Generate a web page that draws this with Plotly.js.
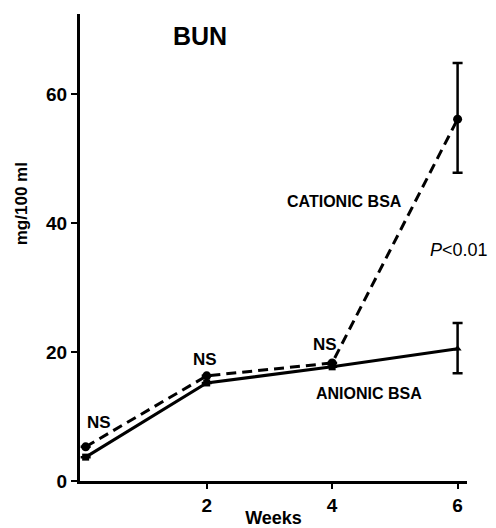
<!DOCTYPE html>
<html>
<head>
<meta charset="utf-8">
<script src="https://cdn.plot.ly/plotly-3.0.1.min.js"></script>
<style>html,body{margin:0;padding:0;background:#fff;}#chart{width:496px;height:528px;}</style>
</head>
<body>
<div id="chart"></div>
<script>
// Data
const weeks = [0.07, 2, 4, 6];
const cationic = [5.3, 16.3, 18.3, 56.1];
const cationicErrUp = [0, 0, 0, 8.7];
const cationicErrDown = [0, 0, 0, 8.3];
const anionic = [3.7, 15.2, 17.7, 20.5];
const anionicErrUp = [0, 0, 0, 4.0];
const anionicErrDown = [0, 0, 0, 3.8];
const anionicSymbols = ['square', 'square', 'square', 'triangle-up'];
const xTickVals = [2, 4, 6];
const yTickVals = [0, 20, 40, 60];

const FONT = 'Liberation Sans, Arial, Helvetica, sans-serif';

const traces = [
  {
    x: weeks, y: anionic, type: 'scatter', mode: 'lines+markers',
    line: {color: '#000', width: 3},
    marker: {color: '#000', size: 7, symbol: anionicSymbols},
    error_y: {type: 'data', symmetric: false, array: anionicErrUp, arrayminus: anionicErrDown,
              color: '#000', thickness: 2.5, width: 5},
    showlegend: false, hoverinfo: 'skip'
  },
  {
    x: weeks, y: cationic, type: 'scatter', mode: 'lines+markers',
    line: {color: '#000', width: 3, dash: '10px,6px'},
    marker: {color: '#000', size: 9, symbol: 'circle'},
    error_y: {type: 'data', symmetric: false, array: cationicErrUp, arrayminus: cationicErrDown,
              color: '#000', thickness: 2.5, width: 5},
    showlegend: false, hoverinfo: 'skip'
  }
];

const lab = (x, y, text, size, weight) => ({
  x: x, y: y, xref: 'x', yref: 'y', text: text, showarrow: false,
  xanchor: 'center', yanchor: 'middle',
  font: {family: FONT, size: size, color: '#000', weight: weight || 'bold'}
});

const layout = {
  width: 496, height: 528,
  margin: {l: 80, r: 29, t: 14, b: 47},
  paper_bgcolor: '#fff', plot_bgcolor: '#fff',
  font: {family: FONT, color: '#000'},
  xaxis: {
    range: [-0.02, 6.15], showgrid: false, zeroline: false,
    showline: true, linecolor: '#000', linewidth: 3,
    ticks: 'outside', ticklen: 5, tickwidth: 2, tickcolor: '#000',
    tickvals: xTickVals, ticktext: xTickVals.map(String),
    tickfont: {family: FONT, size: 19, color: '#000', weight: 'bold'},
    title: {text: 'Weeks', standoff: 2, font: {family: FONT, size: 18, color: '#000', weight: 'bold'}}
  },
  yaxis: {
    range: [0, 72.4], showgrid: false, zeroline: false,
    showline: true, linecolor: '#000', linewidth: 3,
    ticks: 'outside', ticklen: 6, tickwidth: 2, tickcolor: '#000',
    tickvals: yTickVals, ticktext: yTickVals.map(String),
    tickfont: {family: FONT, size: 19, color: '#000', weight: 'bold'}
  },
  annotations: [
    {x: -0.152, y: 0.593, xref: 'paper', yref: 'paper', text: 'mg/100 ml', showarrow: false,
     textangle: -90, xanchor: 'center', yanchor: 'middle',
     font: {family: FONT, size: 17, color: '#000', weight: 'bold'}},
    lab(1.89, 69.0, 'BUN', 25),
    lab(4.19, 43.3, 'CATIONIC BSA', 16),
    lab(6.02, 35.8, '<i>P</i>&lt;0.01', 18, 'normal'),
    lab(4.58, 13.5, 'ANIONIC BSA', 16),
    lab(0.28, 9.1, 'NS', 17),
    lab(1.98, 18.8, 'NS', 17),
    lab(3.88, 21.1, 'NS', 17)
  ]
};

Plotly.newPlot('chart', traces, layout, {displayModeBar: false, staticPlot: true});
</script>
</body>
</html>
